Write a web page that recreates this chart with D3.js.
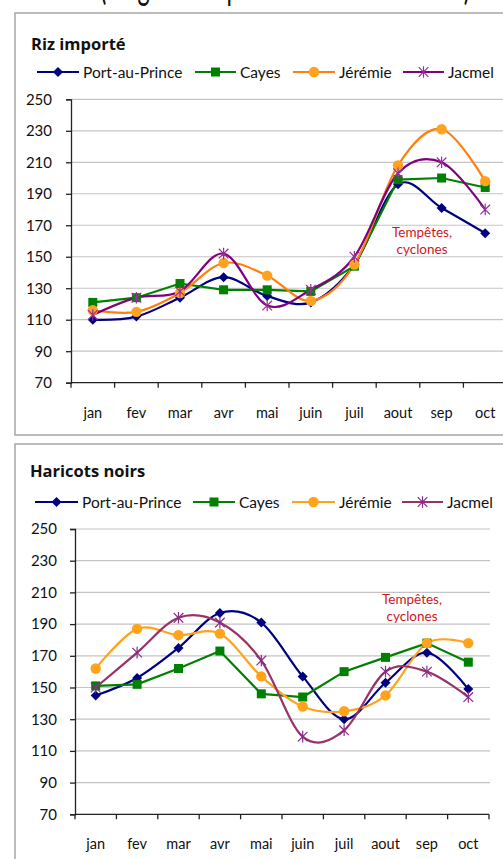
<!DOCTYPE html>
<html><head><meta charset="utf-8">
<script src="https://cdn.jsdelivr.net/npm/d3@7"></script>
<style>
html,body{margin:0;padding:0;background:#fff;}
svg{display:block;font-family:Lato,"Open Sans",sans-serif;}
</style></head>
<body>
<svg id="c" width="503" height="859"></svg>
<script>
// ---------- DATA ----------
const months = ["jan","fev","mar","avr","mai","juin","juil","aout","sep","oct"];
const yTicks = [70,90,110,130,150,170,190,210,230,250];
const seriesNames = ["Port-au-Prince","Cayes","Jérémie","Jacmel"];
const headerText = "(en gourdes par marmite de 6 livres)";
const annotation = ["Tempêtes,","cyclones"];

// Riz importé
const rizPortAuPrince = [110,112,124,137,125,121,145,196,181,165];
const rizCayes        = [121,124,133,129,129,128,144,199,200,194];
const rizJeremie      = [116,115,127,146,138,122,145,208,231,198];
const rizJacmel       = [113,124,128,152,119,129,150,203,210,180];

// Haricots noirs
const harPortAuPrince = [145,156,175,197,191,157,130,153,172,149];
const harCayes        = [151,152,162,173,146,144,160,169,178,166];
const harJeremie      = [162,187,183,184,157,138,135,145,178,178];
const harJacmel       = [150,172,194,191,167,119,123,160,160,144];

// ---------- STYLE ----------
const svg = d3.select("#c");
const styles = {
  top: [
    {line:"#000080", fill:"#000080", marker:"diamond", smooth:true},
    {line:"#008000", fill:"#008000", marker:"square", smooth:false},
    {line:"#ff7f0e", fill:"#ffa21f", marker:"circle", smooth:true},
    {line:"#800080", fill:"#9a2f9a", marker:"asterisk", smooth:true}
  ],
  bottom: [
    {line:"#000080", fill:"#000080", marker:"diamond", smooth:true},
    {line:"#008000", fill:"#008000", marker:"square", smooth:false},
    {line:"#ffa31a", fill:"#ffa31a", marker:"circle", smooth:true},
    {line:"#993366", fill:"#8a2a8a", marker:"asterisk", smooth:true}
  ]
};

// header partially cut off at top
svg.append("text").attr("x",100).attr("y",-1)
  .attr("font-size",42).attr("fill","#111")
  .attr("textLength",370).attr("lengthAdjust","spacingAndGlyphs")
  .text(headerText);

function drawMarker(g, type, x, y, fill, stroke){
  if(type==="diamond"){
    g.append("path").attr("d",`M${x},${y-5}L${x+5},${y}L${x},${y+5}L${x-5},${y}Z`).attr("fill",fill);
  } else if(type==="square"){
    g.append("rect").attr("x",x-4.5).attr("y",y-4.5).attr("width",9).attr("height",9).attr("fill",fill);
  } else if(type==="circle"){
    g.append("circle").attr("cx",x).attr("cy",y).attr("r",5.2).attr("fill",fill);
  } else {
    const r=4.8;
    const p = `M${x-r},${y-r}L${x+r},${y+r}M${x-r},${y+r}L${x+r},${y-r}M${x},${y-r-1}L${x},${y+r+1}`;
    g.append("path").attr("d",p).attr("stroke",fill).attr("stroke-width",1.2).attr("fill","none");
  }
}

function panel(cfg){
  const g = svg.append("g");
  // panel border
  g.append("rect").attr("x",cfg.box[0]).attr("y",cfg.box[1])
    .attr("width",cfg.box[2]).attr("height",cfg.box[3])
    .attr("fill","#fff").attr("stroke","#a6a6a6").attr("stroke-width",1.5);
  // title
  g.append("text").attr("x",cfg.titleX).attr("y",cfg.titleY)
    .attr("font-size",16.5).attr("font-weight","bold").attr("fill","#111")
    .attr("font-family","'Open Sans',Lato,sans-serif").text(cfg.title);
  // legend
  seriesNames.forEach((n,i)=>{
    const st = cfg.styles[i];
    const lx = cfg.legend[i];
    g.append("line").attr("x1",lx[0]).attr("x2",lx[1]).attr("y1",cfg.legendY).attr("y2",cfg.legendY)
      .attr("stroke",st.line).attr("stroke-width",2);
    drawMarker(g, st.marker, (lx[0]+lx[1])/2, cfg.legendY, st.fill, st.line);
    g.append("text").attr("x",lx[1]+4).attr("y",cfg.legendY+5.5)
      .attr("font-size",15.5).attr("fill","#111").text(n);
  });

  const x = d3.scaleBand().domain(months).range([cfg.x0,cfg.x1]);
  const y = d3.scaleLinear().domain([70,250]).range([cfg.y70,cfg.y250]);

  // gridlines
  g.selectAll(".grid").data(yTicks.filter(t=>t>70)).enter().append("line")
    .attr("x1",cfg.x0).attr("x2",cfg.gridEnd).attr("y1",d=>y(d)).attr("y2",d=>y(d))
    .attr("stroke","#c4c4c4").attr("stroke-width",1.2);

  // y axis
  const ya = g.append("g").attr("transform",`translate(${cfg.x0},0)`)
    .call(d3.axisLeft(y).tickValues(yTicks).tickSize(5).tickPadding(cfg.yPad).tickFormat(d3.format("d")));
  ya.select(".domain").attr("stroke","#222").attr("stroke-width",1.3);
  ya.selectAll(".tick line").attr("stroke","#222").attr("stroke-width",1.3);
  ya.selectAll("text").attr("font-size",15).attr("fill","#111").attr("font-family","Lato,sans-serif");

  // x axis
  const xa = g.append("g").attr("transform",`translate(0,${cfg.y70})`);
  xa.append("line").attr("x1",cfg.x0).attr("x2",cfg.x1).attr("y1",0).attr("y2",0)
    .attr("stroke","#222").attr("stroke-width",1.3);
  xa.selectAll(".xt").data(months).enter().append("line")
    .attr("x1",d=>x(d)+x.bandwidth()).attr("x2",d=>x(d)+x.bandwidth())
    .attr("y1",0).attr("y2",5).attr("stroke","#222").attr("stroke-width",1.3);
  xa.append("line").attr("x1",cfg.x0).attr("x2",cfg.x0).attr("y1",0).attr("y2",5)
    .attr("stroke","#222").attr("stroke-width",1.3);
  xa.selectAll(".xl").data(months).enter().append("text")
    .attr("x",d=>x(d)+x.bandwidth()/2).attr("y",cfg.xLabelDy)
    .attr("text-anchor","middle").attr("font-size",14.5).attr("fill","#111").text(d=>d);

  // series
  cfg.data.forEach((vals,i)=>{
    const st = cfg.styles[i];
    const line = d3.line().x((d,j)=>x(months[j])+x.bandwidth()/2).y(d=>y(d))
      .curve(st.smooth ? d3.curveCatmullRom.alpha(0) : d3.curveLinear);
    g.append("path").datum(vals).attr("d",line).attr("fill","none")
      .attr("stroke",st.line).attr("stroke-width",2.2);
  });
  cfg.data.forEach((vals,i)=>{
    const st = cfg.styles[i];
    vals.forEach((v,j)=>drawMarker(g, st.marker, x(months[j])+x.bandwidth()/2, y(v), st.fill, st.line));
  });

  // annotation
  annotation.forEach((t,k)=>{
    g.append("text").attr("x",cfg.annX).attr("y",cfg.annY+k*16.5)
      .attr("text-anchor","middle").attr("font-size",13.5).attr("fill","#d4141e").text(t);
  });
}

panel({
  box:[15,13,500,422], title:"Riz importé", titleX:31, titleY:50,
  legendY:72, legend:[[37,79],[195,236],[293,335],[403,444]],
  x0:71, x1:507, y70:382.7, y250:99.3, gridEnd:503, yPad:14, xLabelDy:35,
  styles:styles.top,
  data:[rizPortAuPrince,rizCayes,rizJeremie,rizJacmel],
  annX:422, annY:237
});
panel({
  box:[15,444,500,430], title:"Haricots noirs", titleX:30, titleY:477,
  legendY:502, legend:[[35,78],[193,235],[292,335],[402,443]],
  x0:75, x1:489, y70:814.3, y250:529, gridEnd:490, yPad:13, xLabelDy:35,
  styles:styles.bottom,
  data:[harPortAuPrince,harCayes,harJeremie,harJacmel],
  annX:412, annY:604
});
</script>
</body></html>
